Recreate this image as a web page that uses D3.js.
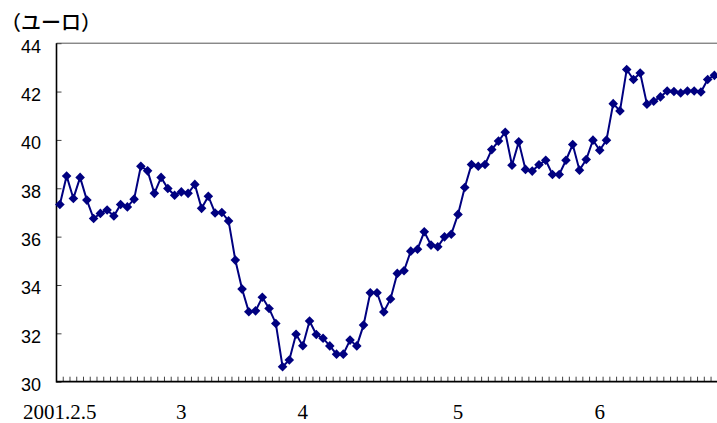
<!DOCTYPE html>
<html>
<head>
<meta charset="utf-8">
<script src="https://cdn.jsdelivr.net/npm/d3@7"></script>
<style>
  html, body { margin: 0; padding: 0; background: #fff; }
  svg { display: block; }
</style>
</head>
<body>
<svg id="chart" width="717" height="423"></svg>
<script>
// ---- data ----
const values = [
  37.33, 38.51, 37.58, 38.45, 37.51, 36.75, 36.96, 37.10, 36.85, 37.33,
  37.23, 37.55, 38.91, 38.72, 37.79, 38.45, 37.99, 37.71, 37.85, 37.79,
  38.16, 37.17, 37.67, 36.98, 37.00, 36.65, 35.03, 33.83, 32.89, 32.93,
  33.49, 33.03, 32.41, 30.62, 30.90, 31.96, 31.49, 32.51, 31.95, 31.80,
  31.48, 31.14, 31.14, 31.72, 31.48, 32.34, 33.68, 33.68, 32.88, 33.42,
  34.48, 34.59, 35.40, 35.48, 36.20, 35.65, 35.58, 35.99, 36.10, 36.92,
  38.03, 38.98, 38.91, 38.98, 39.60, 39.95, 40.32, 38.95, 39.92, 38.78,
  38.71, 38.97, 39.16, 38.57, 38.57, 39.16, 39.81, 38.75, 39.19, 39.99,
  39.57, 39.99, 41.50, 41.20, 42.91, 42.50, 42.77, 41.48, 41.60, 41.78,
  42.02, 42.00, 41.94, 42.02, 42.02, 41.98, 42.50, 42.67
];
const categories = values.map((v, i) => i);
const xTickIndex  = [0, 18, 36, 59, 80];
const xTickLabels = ["2001.2.5", "3", "4", "5", "6"];
const yTicks = [30, 32, 34, 36, 38, 40, 42, 44];
const unitLabel = "（ユーロ）";

// ---- layout ----
const svg = d3.select("#chart");
const pL = 56.5, pR = 717.8, pT = 43.2, pB = 381.7;

const x = d3.scaleBand().domain(categories).range([pL, pR]);
const y = d3.scaleLinear().domain([30, 44]).range([pB, pT]);
const cx = i => x(i) + x.bandwidth() / 2;

// plot frame (top & right)
svg.append("path")
  .attr("d", `M${pL},${pT}H${pR}V${pB}`)
  .attr("fill", "none").attr("stroke", "#555").attr("stroke-width", 1);

// y axis ticks
const yAxis = svg.append("g").attr("transform", `translate(${pL},0)`)
  .call(d3.axisRight(y).tickValues(yTicks).tickSize(5).tickFormat(""));
yAxis.select(".domain").remove();
yAxis.selectAll(".tick line").attr("stroke", "#444").attr("stroke-width", 1);

svg.append("g").selectAll("text").data(yTicks).join("text")
  .attr("x", 41).attr("y", d => y(d) + 9.5)
  .attr("text-anchor", "end")
  .attr("font-family", "'Liberation Sans', Arial, sans-serif")
  .attr("font-size", 18).attr("fill", "#000")
  .text(d => d);

// x axis ticks at category boundaries
const boundaries = categories.map(i => x(i)).concat([pR]);
svg.append("g").selectAll("line").data(boundaries).join("line")
  .attr("x1", d => d).attr("x2", d => d)
  .attr("y1", pB - 5).attr("y2", pB)
  .attr("stroke", "#444").attr("stroke-width", 1);

// axis lines
svg.append("line").attr("x1", pL).attr("x2", pL).attr("y1", pT).attr("y2", pB + 0.8)
  .attr("stroke", "#000").attr("stroke-width", 1.6);
svg.append("line").attr("x1", pL).attr("x2", pR).attr("y1", pB).attr("y2", pB)
  .attr("stroke", "#000").attr("stroke-width", 1.8);

// x labels
svg.append("g").selectAll("text").data(xTickIndex).join("text")
  .attr("x", d => cx(d)).attr("y", 419)
  .attr("text-anchor", "middle")
  .attr("font-family", "'Liberation Serif', 'Times New Roman', serif")
  .attr("font-size", 21).attr("fill", "#000")
  .text((d, k) => xTickLabels[k]);

// unit label
svg.append("text").attr("x", 1).attr("y", 30)
  .attr("font-family", "'Noto Sans CJK JP', sans-serif")
  .attr("font-size", 20).attr("font-weight", 500).attr("fill", "#000")
  .text(unitLabel);

// series
const color = "#000080";
const line = d3.line().x((d, i) => cx(i)).y(d => y(d));
svg.append("path").datum(values)
  .attr("d", line).attr("fill", "none")
  .attr("stroke", color).attr("stroke-width", 2);

const sym = d3.symbol(d3.symbolSquare, 46);
svg.append("g").selectAll("path").data(values).join("path")
  .attr("d", sym)
  .attr("transform", (d, i) => `translate(${cx(i)},${y(d)}) rotate(45)`)
  .attr("fill", color);
</script>
</body>
</html>
